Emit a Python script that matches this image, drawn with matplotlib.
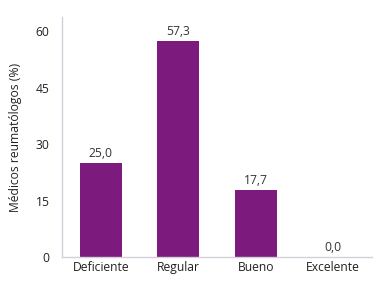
import matplotlib
matplotlib.use("Agg")
import matplotlib.pyplot as plt

categories = ["Deficiente", "Regular", "Bueno", "Excelente"]
values = [25.0, 57.3, 17.7, 0.0]
value_labels = ["25,0", "57,3", "17,7", "0,0"]
yticks = [0, 15, 30, 45, 60]

plt.rcParams['font.family'] = ['Open Sans', 'DejaVu Sans']

fig = plt.figure(figsize=(3.81, 2.85), dpi=100)
ax = fig.add_axes([62/381, 1-257/285, (372-62)/381, (257-17)/285])
color = "#7D1A7D"
x = list(range(len(categories)))
bars = ax.bar(x, values, width=0.54, color=color)
for xi, v, lab in zip(x, values, value_labels):
    ax.text(xi, v + 0.9, lab, ha="center", va="bottom", fontsize=8.7, color="#333333")

ax.set_xlim(-0.5, 3.5)
ax.set_ylim(0, 63.8)
ax.set_yticks(yticks)
ax.set_xticks(x)
ax.set_xticklabels(categories)
ax.tick_params(axis="both", length=0, labelsize=8.7, colors="#222222")
ax.tick_params(axis="y", pad=9)
ax.tick_params(axis="x", pad=3)
for s in ["top", "right"]:
    ax.spines[s].set_visible(False)
for s in ["left", "bottom"]:
    ax.spines[s].set_color("#D6CCDA")
    ax.spines[s].set_linewidth(1.0)
ax.set_ylabel("Médicos reumatólogos (%)", fontsize=8.7, color="#222222", labelpad=10)

fig.savefig("out.png", dpi=100)
